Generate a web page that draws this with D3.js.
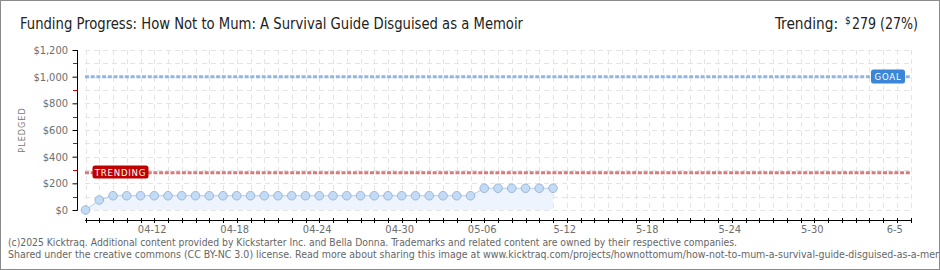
<!DOCTYPE html>
<html><head><meta charset="utf-8">
<script src="https://cdn.jsdelivr.net/npm/d3@7"></script>
<style>html,body{margin:0;padding:0;background:#fff}svg{display:block}</style>
</head><body>
<script>
const titleText = "Funding Progress: How Not to Mum: A Survival Guide Disguised as a Memoir";
const pledgeDates = ["2025-04-07","2025-04-08","2025-04-09","2025-04-10","2025-04-11","2025-04-12","2025-04-13","2025-04-14","2025-04-15","2025-04-16","2025-04-17","2025-04-18","2025-04-19","2025-04-20","2025-04-21","2025-04-22","2025-04-23","2025-04-24","2025-04-25","2025-04-26","2025-04-27","2025-04-28","2025-04-29","2025-04-30","2025-05-01","2025-05-02","2025-05-03","2025-05-04","2025-05-05","2025-05-06","2025-05-07","2025-05-08","2025-05-09","2025-05-10","2025-05-11"];
const pledgeValues = [0,75,107,107,107,107,107,107,107,107,107,107,107,107,107,107,107,107,107,107,107,107,107,107,107,107,107,107,107,163,163,163,163,163,163];
const campaignRange = ["2025-04-07","2025-06-06"];
const goalValue = 1000;
const trendValue = 279;
const trendPct = "27%";
const yTicks = [0,200,400,600,800,1000,1200];
const yMinorTicks = [100,300,500,700,900,1100];
const xTickDates = ["2025-04-12","2025-04-18","2025-04-24","2025-04-30","2025-05-06","2025-05-12","2025-05-18","2025-05-24","2025-05-30","2025-06-05"];
const xTickLabels = ["04-12","04-18","04-24","04-30","05-06","5-12","5-18","5-24","5-30","6-5"];
const footer1 = "(c)2025 Kicktraq. Additional content provided by Kickstarter Inc. and Bella Donna. Trademarks and related content are owned by their respective companies.";
const footer2 = "Shared under the creative commons (CC BY-NC 3.0) license. Read more about sharing this image at www.kicktraq.com/projects/hownottomum/how-not-to-mum-a-survival-guide-disguised-as-a-memoir/";

const W = 940, H = 270;
const parse = d3.utcParse("%Y-%m-%d");
const svg = d3.select("body").append("svg").attr("width", W).attr("height", H);
svg.append("rect").attr("x",0.5).attr("y",0.5).attr("width",W-1).attr("height",H-1)
  .attr("fill","#fff").attr("stroke","#8a8a8a");

const x = d3.scaleUtc().domain(campaignRange.map(parse)).range([85.5, 910.5]);
const y = d3.scaleLinear().domain([0,1200]).range([210, 50]);
const days = d3.utcDay.range(parse(campaignRange[0]), d3.utcDay.offset(parse(campaignRange[1]),1));

const fontUI = "'DejaVu Sans Condensed','DejaVu Sans',sans-serif";

// grid
const g = svg.append("g");
g.selectAll(".vg").data(days).join("line")
  .attr("x1", d=>Math.round(x(d))+0.5).attr("x2", d=>Math.round(x(d))+0.5)
  .attr("y1", 50).attr("y2", 210)
  .attr("stroke","#e4e4e4").attr("stroke-dasharray","5,4");
g.selectAll(".hg").data(yTicks.concat(yMinorTicks)).join("line")
  .attr("x1", 85).attr("x2", 911)
  .attr("y1", d=>Math.round(y(d))+0.5).attr("y2", d=>Math.round(y(d))+0.5)
  .attr("stroke","#e4e4e4").attr("stroke-dasharray","5,4");

// area + line
const pts = pledgeDates.map((d,i)=>({date:parse(d), v:pledgeValues[i]}));
svg.append("path").datum(pts)
  .attr("d", d3.area().x(d=>x(d.date)).y0(y(0)).y1(d=>y(d.v)))
  .attr("fill","#edf4fd");
svg.append("path").datum(pts)
  .attr("d", d3.line().x(d=>x(d.date)).y(d=>y(d.v)))
  .attr("fill","none").attr("stroke","#b3cdee").attr("stroke-width",1);

// goal & trend lines
svg.append("line").attr("x1",85).attr("x2",911).attr("y1",y(goalValue)).attr("y2",y(goalValue))
  .attr("stroke","#93b5e1").attr("stroke-width",3).attr("stroke-dasharray","4,1.7");
svg.append("line").attr("x1",85).attr("x2",911).attr("y1",y(trendValue)).attr("y2",y(trendValue))
  .attr("stroke","#d77a7c").attr("stroke-width",3).attr("stroke-dasharray","4,1.7");

// markers
svg.selectAll(".pt").data(pts).join("circle")
  .attr("cx", d=>x(d.date)).attr("cy", d=>y(d.v)).attr("r",4.3)
  .attr("fill","#c4dbf6").attr("stroke","#9cb7dc").attr("stroke-width",1);

// y axis
const ya = svg.append("g").attr("transform","translate(77,0)")
  .call(d3.axisLeft(y).tickValues(yTicks).tickSize(5).tickFormat(d=>"$"+d3.format(",")(d)));
ya.select(".domain").attr("stroke","#000").attr("d","M0.5,50V210.5");
ya.selectAll(".tick line").attr("stroke","#000").attr("transform","translate(0.5,0)");
ya.selectAll(".tick text").attr("fill","#6e6e6e").attr("font-family",fontUI).attr("font-size",11).attr("x",-9);
svg.append("g").selectAll("line").data(yMinorTicks).join("line")
  .attr("x1",73).attr("x2",77).attr("y1",d=>Math.round(y(d))+0.5).attr("y2",d=>Math.round(y(d))+0.5)
  .attr("stroke","#e00000");

// x axis
const xa = svg.append("g").attr("transform","translate(0,220)");
xa.append("line").attr("x1",85).attr("x2",911).attr("y1",0.5).attr("y2",0.5).attr("stroke","#000");
xa.selectAll(".xt").data(days).join("line")
  .attr("x1", d=>Math.round(x(d))+0.5).attr("x2", d=>Math.round(x(d))+0.5)
  .attr("y1",-2).attr("y2",3).attr("stroke","#000");
xa.selectAll(".xl").data(xTickDates).join("text")
  .attr("x", d=>x(parse(d))-2).attr("y",13)
  .attr("text-anchor","middle").attr("fill","#6e6e6e")
  .attr("font-family",fontUI).attr("font-size",11)
  .text((d,i)=>xTickLabels[i]);

// y label
svg.append("text").attr("transform","translate(25,130) rotate(-90)")
  .attr("text-anchor","middle").attr("fill","#777").attr("font-family",fontUI)
  .attr("font-size",9).attr("letter-spacing",1).text("PLEDGED");

// badges
function badge(x0, y0, w, h, fill, label){
  svg.append("rect").attr("x",x0).attr("y",y0).attr("width",w).attr("height",h).attr("rx",2.5)
    .attr("fill",fill);
  svg.append("text").attr("x",x0+w/2).attr("y",y0+h/2+3.5).attr("text-anchor","middle")
    .attr("fill","#fff").attr("font-family",fontUI).attr("font-size",9.5)
    .attr("letter-spacing",0.8).text(label);
}
badge(92.5, 165.5, 56, 13, "#c00000", "TRENDING");
badge(871, 69.5, 34, 14, "#3b86d8", "GOAL");

// title
const titleFont = "'Liberation Sans Narrow','DejaVu Sans Condensed',sans-serif";
svg.append("text").attr("x",20).attr("y",29).attr("fill","#222")
  .attr("font-family",titleFont).attr("font-size",16)
  .attr("textLength",503).attr("lengthAdjust","spacingAndGlyphs").text(titleText);
svg.append("text").attr("x",775).attr("y",29).attr("fill","#222")
  .attr("font-family",titleFont).attr("font-size",16)
  .attr("textLength",63).attr("lengthAdjust","spacingAndGlyphs").text("Trending:");
svg.append("text").attr("x",845).attr("y",24).attr("fill","#222")
  .attr("font-family",titleFont).attr("font-size",10).text("$");
svg.append("text").attr("x",852).attr("y",29).attr("fill","#222")
  .attr("font-family",titleFont).attr("font-size",16)
  .attr("textLength",66).attr("lengthAdjust","spacingAndGlyphs").text(trendValue + " (" + trendPct + ")");

// footer
const f1 = svg.append("text").attr("x",8).attr("y",246).attr("fill","#666")
  .attr("font-family",fontUI).attr("font-size",10).text(footer1);
const n1 = f1.node().getComputedTextLength();
const r = 729 / n1;
f1.attr("textLength",729).attr("lengthAdjust","spacingAndGlyphs");
const f2 = svg.append("text").attr("x",8).attr("y",258).attr("fill","#666")
  .attr("font-family",fontUI).attr("font-size",10).text(footer2);
const n2 = f2.node().getComputedTextLength();
f2.attr("textLength",n2*r*1.022).attr("lengthAdjust","spacingAndGlyphs");
svg.append("rect").attr("x",W-1).attr("y",0).attr("width",1).attr("height",H).attr("fill","#8a8a8a");
</script>
</body></html>
